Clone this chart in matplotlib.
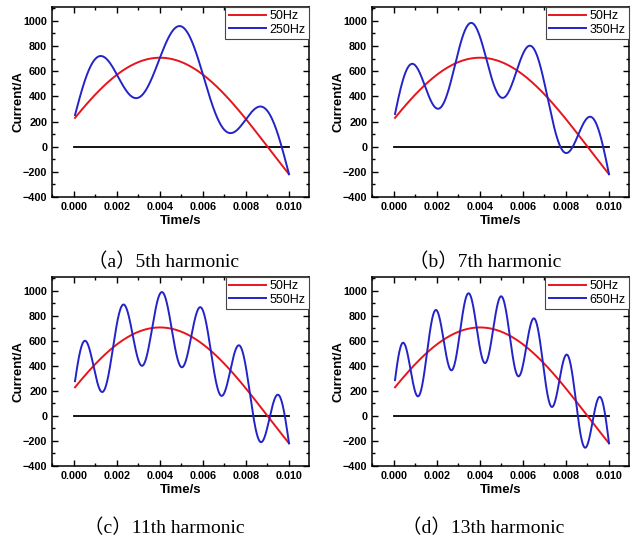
import numpy as np
import matplotlib
matplotlib.use('Agg')
import matplotlib.pyplot as plt
from matplotlib.ticker import MultipleLocator

# ── data ─────────────────────────────────────────────────────────────────────
FUND_FREQ   = 50          # Hz
FUND_AMP    = 707         # A, peak of the 50 Hz wave (at t = 0.004 s)
FUND_PHASE  = 0.314       # rad
HARM_AMP    = 283         # A, amplitude of the superposed harmonic
HARM_ORDERS = [5, 7, 11, 13]
CAPTIONS    = ['（a）5th harmonic', '（b）7th harmonic',
               '（c）11th harmonic', '（d）13th harmonic']
T_START, T_END = 0.00005, 0.010

YTICKS = [-400, -200, 0, 200, 400, 600, 800, 1000]
XTICKS = [0.000, 0.002, 0.004, 0.006, 0.008, 0.010]

RED  = '#e8141c'
BLUE = '#2323c8'

# axes rectangles in pixels (left, top, right, bottom) of a 642x540 figure
W, H = 642, 540
boxes = [(52, 7, 309, 197), (372, 7, 629, 197),
         (52, 277, 309, 466), (372, 277, 629, 466)]
cap_pos = [(164, 262), (485, 262), (164, 528), (483, 528)]

fig = plt.figure(figsize=(W / 100, H / 100), dpi=100, facecolor='white')

t = np.linspace(T_START, T_END, 2000)
base = FUND_AMP * np.sin(2 * np.pi * FUND_FREQ * t + FUND_PHASE)

for (l, tp, r, b), order, cap, (cx, cy) in zip(boxes, HARM_ORDERS, CAPTIONS, cap_pos):
    ax = fig.add_axes([l / W, 1 - b / H, (r - l) / W, (b - tp) / H])
    f = order * FUND_FREQ
    mixed = base + HARM_AMP * np.sin(2 * np.pi * f * t)

    ax.plot([0, 0.010], [0, 0], color='black', lw=1.3)
    ax.plot(t, base, color=RED, lw=1.4, label='50Hz')
    ax.plot(t, mixed, color=BLUE, lw=1.4, label=f'{f}Hz')

    ax.set_xlim(-0.00102, 0.01093)
    ax.set_ylim(-400, 1110)
    ax.set_xticks(XTICKS)
    ax.set_xticklabels([f'{v:.3f}' for v in XTICKS])
    ax.set_yticks(YTICKS)
    ax.xaxis.set_minor_locator(MultipleLocator(0.001))
    ax.yaxis.set_minor_locator(MultipleLocator(100))
    ax.tick_params(which='both', direction='in', top=True, right=True,
                   labelsize=7.8, width=1.0, pad=3.5)
    ax.tick_params(which='major', length=4)
    ax.tick_params(which='minor', length=2)
    for lab in ax.get_xticklabels() + ax.get_yticklabels():
        lab.set_fontweight('bold')
        lab.set_family('Liberation Sans')
    for sp in ax.spines.values():
        sp.set_linewidth(1.1)

    ax.set_xlabel('Time/s', fontsize=9.5, fontweight='bold',
                  family='Liberation Sans', labelpad=2)
    ax.set_ylabel('Current/A', fontsize=9.5, fontweight='bold',
                  family='Liberation Sans', labelpad=-1)

    leg = ax.legend(loc='upper right', borderaxespad=0,
                    prop={'family': 'Liberation Sans', 'size': 9},
                    frameon=True, fancybox=False, edgecolor='#444444',
                    framealpha=1, handlelength=3.0, handletextpad=0.3,
                    borderpad=0.25, labelspacing=0.12)
    leg.get_frame().set_linewidth(0.8)

    fig.text(cx / W, 1 - cy / H, cap, ha='center', va='center', fontsize=14,
             family=['Liberation Serif', 'Noto Sans CJK SC'])

fig.savefig('out.png', dpi=100, facecolor='white')
